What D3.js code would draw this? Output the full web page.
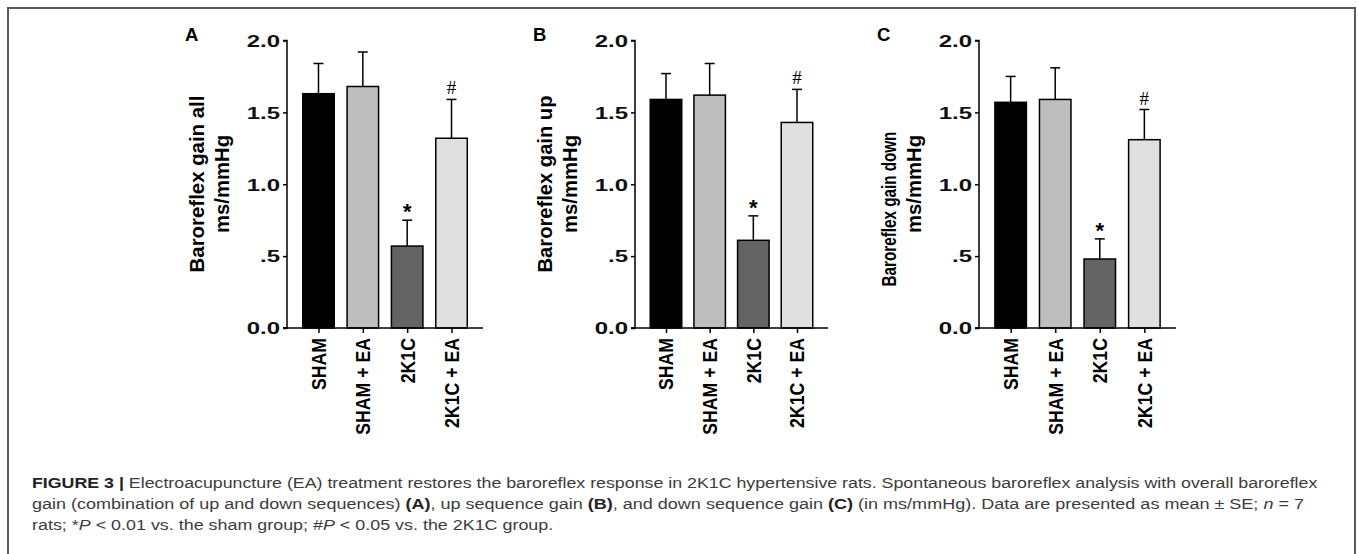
<!DOCTYPE html>
<html><head><meta charset="utf-8">
<script src="https://cdn.jsdelivr.net/npm/d3@7"></script>
<style>body{margin:0;background:#fff;}svg{display:block;}</style>
</head><body>
<svg id="c" width="1358" height="554"></svg>
<script>
// ---- data ----
const categories = ["SHAM", "SHAM + EA", "2K1C", "2K1C + EA"];
const gainAll = [1.63, 1.68, 0.57, 1.32];
const gainAllSE = [0.21, 0.24, 0.18, 0.27];
const gainUp = [1.59, 1.62, 0.61, 1.43];
const gainUpSE = [0.18, 0.22, 0.17, 0.23];
const gainDown = [1.57, 1.59, 0.48, 1.31];
const gainDownSE = [0.18, 0.22, 0.14, 0.21];
const sigMarks = ["", "", "*", "#"];
const yTicks = [0, 0.5, 1.0, 1.5, 2.0];
const yTickLabels = ["0.0", ".5", "1.0", "1.5", "2.0"];
const panelLetters = ["A", "B", "C"];
const yTitles = ["Baroreflex gain all", "Baroreflex gain up", "Baroreflex gain down"];
const yUnit = "ms/mmHg";
const barColors = ["#000000", "#bebebe", "#636363", "#e0e0e0"];

const panels = [
  {values: gainAll, se: gainAllSE, x0: 287, x1: 483, title: yTitles[0], letter: panelLetters[0], tLen: 177, tMid: 184},
  {values: gainUp, se: gainUpSE, x0: 635, x1: 828, title: yTitles[1], letter: panelLetters[1], tLen: 177, tMid: 184},
  {values: gainDown, se: gainDownSE, x0: 979, x1: 1176, title: yTitles[2], letter: panelLetters[2], tLen: 155, tMid: 209}
];

const svg = d3.select("#c");
// frame
svg.append("rect").attr("x", 8).attr("y", 8).attr("width", 1347).attr("height", 600)
  .attr("fill", "none").attr("stroke", "#5a5a5a").attr("stroke-width", 2);

const yTop = 40.5, yBot = 328;
const y = d3.scaleLinear().domain([0, 2]).range([yBot, yTop]);
const boldFont = "'Liberation Sans', Arial, sans-serif";

panels.forEach(p => {
  const g = svg.append("g");
  const x = d3.scalePoint().domain(categories).range([p.x0, p.x1]).padding(0.71);
  const bw = 31.5;

  // bars
  g.selectAll("rect.bar").data(p.values).join("rect")
    .attr("x", (d, i) => x(categories[i]) - bw / 2)
    .attr("y", d => y(d))
    .attr("width", bw)
    .attr("height", d => yBot - y(d))
    .attr("fill", (d, i) => barColors[i])
    .attr("stroke", "#000").attr("stroke-width", 1.5);

  // error bars (upper only)
  p.values.forEach((v, i) => {
    const cx = x(categories[i]);
    g.append("line").attr("x1", cx).attr("x2", cx).attr("y1", y(v)).attr("y2", y(v + p.se[i]))
      .attr("stroke", "#000").attr("stroke-width", 1.5);
    g.append("line").attr("x1", cx - 5).attr("x2", cx + 5).attr("y1", y(v + p.se[i])).attr("y2", y(v + p.se[i]))
      .attr("stroke", "#000").attr("stroke-width", 1.5);
    if (sigMarks[i] === "*") {
      g.append("text").attr("x", cx).attr("y", y(v + p.se[i]) - 1)
        .attr("text-anchor", "middle").attr("font-family", boldFont).attr("font-weight", "bold")
        .attr("font-size", 22).attr("fill", "#000").text("*");
    } else if (sigMarks[i] === "#") {
      g.append("text").attr("x", cx).attr("y", y(v + p.se[i]) - 5)
        .attr("text-anchor", "middle").attr("font-family", "'Liberation Serif', 'Times New Roman', serif")
        .attr("font-size", 19).attr("fill", "#000").text("#");
    }
  });

  // y axis
  const yAxis = d3.axisLeft(y).tickValues(yTicks).tickFormat((d, i) => yTickLabels[i]).tickSize(4).tickPadding(3);
  const ya = g.append("g").attr("transform", `translate(${p.x0},0)`).call(yAxis);
  ya.select(".domain").attr("stroke", "#000").attr("stroke-width", 1.5).attr("d", `M-4,${yTop}H0V${yBot}H-4`);
  ya.selectAll(".tick line").attr("stroke", "#000").attr("stroke-width", 1.5);
  ya.selectAll(".tick text")
    .attr("font-family", boldFont).attr("font-weight", "bold").attr("font-size", 16).attr("fill", "#111")
    .attr("x", 0).attr("dy", "0.36em")
    .attr("transform", "translate(-7,0) scale(1.5,1)");

  // x axis
  const xAxis = d3.axisBottom(x).tickSize(5).tickSizeOuter(0).tickFormat("");
  const xa = g.append("g").attr("transform", `translate(0,${yBot})`).call(xAxis);
  xa.select(".domain").attr("stroke", "#000").attr("stroke-width", 1.5).attr("d", `M${p.x0 - 4},0H${p.x1}`);
  xa.selectAll(".tick line").attr("stroke", "#000").attr("stroke-width", 1.5);
  // rotated category labels
  categories.forEach((c, i) => {
    g.append("text")
      .attr("transform", `translate(${x(c)},${yBot + 10}) rotate(-90) scale(1,1.15)`)
      .attr("text-anchor", "end").attr("dy", "0.36em")
      .attr("font-family", boldFont).attr("font-weight", "bold").attr("font-size", 17.7).attr("fill", "#000")
      .text(c);
  });

  // y title (two lines)
  const t1 = g.append("text")
    .attr("text-anchor", "middle").attr("font-family", boldFont).attr("font-weight", "bold")
    .attr("font-size", 21).attr("fill", "#000")
    .text(p.title);
  const nat = t1.node().getComputedTextLength();
  t1.attr("transform", `translate(${p.x0 - 83},${p.tMid}) rotate(-90) scale(${p.tLen / nat},1)`);
  g.append("text")
    .attr("transform", `translate(${p.x0 - 58},184) rotate(-90)`)
    .attr("text-anchor", "middle").attr("font-family", boldFont).attr("font-weight", "bold")
    .attr("font-size", 20.3).attr("fill", "#000")
    .text(yUnit);

  // panel letter
  g.append("text").attr("x", p.x0 - 102).attr("y", 40.5)
    .attr("font-family", boldFont).attr("font-weight", "bold").attr("font-size", 18.5).attr("fill", "#000")
    .text(p.letter);
});

// caption
const captionX = 32;
const captionLines = [
  {y: 487.5, end: 1318, parts: [["FIGURE 3 | ", "b"], ["Electroacupuncture (EA) treatment restores the baroreflex response in 2K1C hypertensive rats. Spontaneous baroreflex analysis with overall baroreflex", ""]]},
  {y: 508.5, end: 1305, parts: [["gain (combination of up and down sequences) ", ""], ["(A)", "b"], [", up sequence gain ", ""], ["(B)", "b"], [", and down sequence gain ", ""], ["(C)", "b"], [" (in ms/mmHg). Data are presented as mean \u00B1 SE; ", ""], ["n", "i"], [" = 7", ""]]},
  {y: 529.5, end: null, parts: [["rats; *", ""], ["P", "i"], [" < 0.01 vs. the sham group; #", ""], ["P", "i"], [" < 0.05 vs. the 2K1C group.", ""]]}
];
const capNodes = captionLines.map(l => {
  const t = svg.append("text").attr("x", 0).attr("y", 0)
    .attr("font-family", "'Liberation Sans', Arial, sans-serif").attr("font-size", 15.5).attr("fill", "#3c3c3c");
  l.parts.forEach(([s, st]) => {
    const ts = t.append("tspan").text(s);
    if (st === "b") ts.attr("font-weight", "bold").attr("fill", "#222");
    if (st === "i") ts.attr("font-style", "italic");
  });
  return t;
});
const scales = captionLines.map((l, i) => l.end ? (l.end - captionX) / capNodes[i].node().getComputedTextLength() : null);
const avgScale = d3.mean(scales.filter(s => s !== null));
capNodes.forEach((t, i) => t.attr("transform", `translate(${captionX},${captionLines[i].y}) scale(${scales[i] || avgScale},1)`));
</script>
</body></html>
